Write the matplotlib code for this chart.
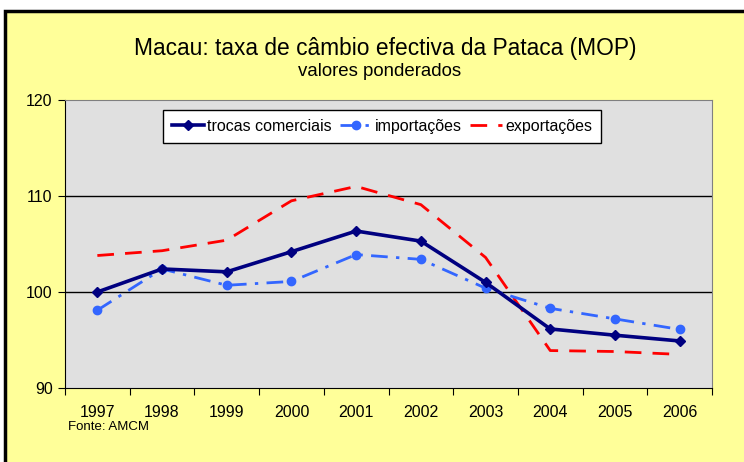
import matplotlib
matplotlib.use("Agg")
import matplotlib.pyplot as plt
from matplotlib.patches import Rectangle

plt.rcParams["font.family"] = ["Liberation Sans", "DejaVu Sans"]

anos = ["1997", "1998", "1999", "2000", "2001", "2002", "2003", "2004", "2005", "2006"]
trocas = [100.0, 102.4, 102.1, 104.2, 106.35, 105.3, 101.0, 96.15, 95.5, 94.9]
importacoes = [98.1, 102.4, 100.7, 101.1, 103.9, 103.4, 100.4, 98.3, 97.2, 96.1]
exportacoes = [103.8, 104.3, 105.4, 109.5, 111.0, 109.1, 103.6, 93.9, 93.8, 93.5]

W, H = 744, 462
fig = plt.figure(figsize=(W / 100, H / 100), dpi=100, facecolor="white")

# moldura amarela (cortada à direita/baixo, como no original)
fig.patches.append(Rectangle((5 / W, -0.1), 1.2, (H - 11) / H + 0.1,
                             transform=fig.transFigure, facecolor="#FFFF99",
                             edgecolor="black", linewidth=2.5, zorder=-1))

ax = fig.add_axes([65 / W, (H - 388) / H, (712 - 65) / W, (388 - 100) / H])
ax.set_zorder(1)
ax.set_facecolor("#E0E0E0")
x = range(len(anos))

ax.plot(x, exportacoes, color="#FF0000", lw=2, dashes=(6, 4),
        label="exportações", zorder=3)
ax.plot(x, importacoes, color="#3366FF", lw=2, dashes=(6, 3, 1.2, 3),
        marker="o", ms=6, label="importações", zorder=4)
ax.plot(x, trocas, color="#000080", lw=2.6, marker="D", ms=5,
        label="trocas comerciais", zorder=5)

ax.set_ylim(90, 120)
ax.set_yticks([90, 100, 110, 120])
ax.set_xlim(-0.5, len(anos) - 0.5)
ax.set_xticks([i - 0.5 for i in range(len(anos) + 1)], minor=False)
ax.set_xticklabels([])
ax.set_xticks(list(x), minor=True)
ax.set_xticklabels(anos, minor=True)
ax.tick_params(axis="x", which="minor", length=0, pad=12, labelsize=11.5)
ax.tick_params(axis="x", which="major", length=5, direction="out", color="black")
ax.tick_params(axis="y", length=5, direction="out", labelsize=11.5, pad=4)
for v in [100, 110]:
    ax.axhline(v, color="black", lw=1, zorder=1)
for side in ["top", "right"]:
    ax.spines[side].set_color("#808080")
for side in ["left", "bottom"]:
    ax.spines[side].set_color("black")

h, l = ax.get_legend_handles_labels()
leg = ax.legend(h[::-1], l[::-1], ncol=3, loc="upper center",
                bbox_to_anchor=(0.49, 0.965), fontsize=11.5, frameon=True,
                fancybox=False, edgecolor="black", framealpha=1,
                handlelength=2.0, handletextpad=0.2, columnspacing=0.5,
                borderpad=0.55, borderaxespad=0)
leg.get_frame().set_linewidth(1)

fig.text(385 / W, 1 - 48 / H, "Macau: taxa de câmbio efectiva da Pataca (MOP)",
         ha="center", va="center", fontsize=16.4)
fig.text(380 / W, 1 - 71 / H, "valores ponderados", ha="center", va="center",
         fontsize=13.4)
fig.text(68 / W, 1 - 427 / H, "Fonte: AMCM", ha="left", va="center", fontsize=9.5)

fig.savefig("out.png", dpi=100, facecolor=fig.get_facecolor())
